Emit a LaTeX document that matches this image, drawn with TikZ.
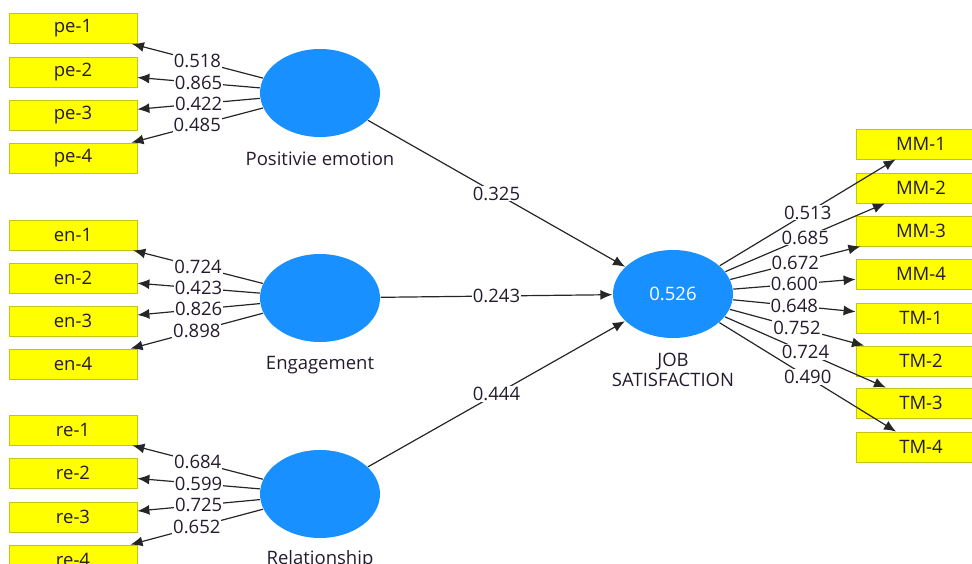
\documentclass[tikz,border=0pt]{standalone}
\usepackage{fontspec}
\setmainfont{Open Sans}
\usepackage{xcolor}
\usepackage{tikz}
\usetikzlibrary{shapes.geometric,arrows.meta}
\definecolor{lvblue}{RGB}{24,144,255}
\definecolor{mvyellow}{RGB}{255,255,0}
\definecolor{mvedge}{RGB}{196,196,20}
\definecolor{txt}{RGB}{36,28,46}

\begin{document}
\begin{tikzpicture}[x=1pt,y=-1pt,line width=1.2pt,
	every node/.style={font=\fontsize{18.5}{20}\selectfont,text=txt},
	lv/.style={ellipse,fill=lvblue,minimum width=120pt,minimum height=88pt,inner sep=0pt},
	mv/.style={rectangle,draw=mvedge,line width=0.8pt,fill=mvyellow,minimum width=128pt,minimum height=30pt,inner sep=0pt},
	mvr/.style={mv,minimum width=130pt},
	load/.style={draw=black!85,-{Latex[length=12pt,width=10pt]}},
	coef/.style={midway,fill=white,inner sep=1pt}]
			\useasboundingbox (0,0) rectangle (972,564);
			\node[lv] (pe) at (320,93) {};
			\node (pename) at (320,159) {Positivie emotion};
			\node[lv] (en) at (320,298) {};
			\node (enname) at (320,365) {Engagement};
			\node[lv] (re) at (320,494) {};
			\node (rename) at (320,560) {Relationship};
			\node[lv,text=white] (js) at (673,294) {0.526};
			\node[align=center] (jsname) at (673,370) {JOB\\SATISFACTION};
			\node[mv] (pe1) at (73,28.5) {pe-1};
			\node[mv] (pe2) at (73,72) {pe-2};
			\node[mv] (pe3) at (73,115) {pe-3};
			\node[mv] (pe4) at (73,158) {pe-4};
			\node[mv] (en1) at (73,235) {en-1};
			\node[mv] (en2) at (73,278) {en-2};
			\node[mv] (en3) at (73,321) {en-3};
			\node[mv] (en4) at (73,364) {en-4};
			\node[mv] (re1) at (73,430) {re-1};
			\node[mv] (re2) at (73,473) {re-2};
			\node[mv] (re3) at (73,517) {re-3};
			\node[mv] (re4) at (73,560) {re-4};
			\node[mvr] (mm1) at (921,144) {MM-1};
			\node[mvr] (mm2) at (921,188) {MM-2};
			\node[mvr] (mm3) at (921,231) {MM-3};
			\node[mvr] (mm4) at (921,274) {MM-4};
			\node[mvr] (tm1) at (921,318) {TM-1};
			\node[mvr] (tm2) at (921,361) {TM-2};
			\node[mvr] (tm3) at (921,403) {TM-3};
			\node[mvr] (tm4) at (921,447) {TM-4};
			\draw[load] (pe) -- node[coef] {0.518} (pe1);
			\draw[load] (pe) -- node[coef] {0.865} (pe2);
			\draw[load] (pe) -- node[coef] {0.422} (pe3);
			\draw[load] (pe) -- node[coef] {0.485} (pe4);
			\draw[load] (en) -- node[coef] {0.724} (en1);
			\draw[load] (en) -- node[coef] {0.423} (en2);
			\draw[load] (en) -- node[coef] {0.826} (en3);
			\draw[load] (en) -- node[coef] {0.898} (en4);
			\draw[load] (re) -- node[coef] {0.684} (re1);
			\draw[load] (re) -- node[coef] {0.599} (re2);
			\draw[load] (re) -- node[coef] {0.725} (re3);
			\draw[load] (re) -- node[coef] {0.652} (re4);
			\draw[load] (pe) -- node[coef] {0.325} (js);
			\draw[load] (en) -- node[coef] {0.243} (js);
			\draw[load] (re) -- node[coef] {0.444} (js);
			\draw[load] (js) -- node[coef] {0.513} (mm1);
			\draw[load] (js) -- node[coef] {0.685} (mm2);
			\draw[load] (js) -- node[coef] {0.672} (mm3);
			\draw[load] (js) -- node[coef] {0.600} (mm4);
			\draw[load] (js) -- node[coef] {0.648} (tm1);
			\draw[load] (js) -- node[coef] {0.752} (tm2);
			\draw[load] (js) -- node[coef] {0.724} (tm3);
			\draw[load] (js) -- node[coef] {0.490} (tm4);
		\end{tikzpicture}
\end{document}
